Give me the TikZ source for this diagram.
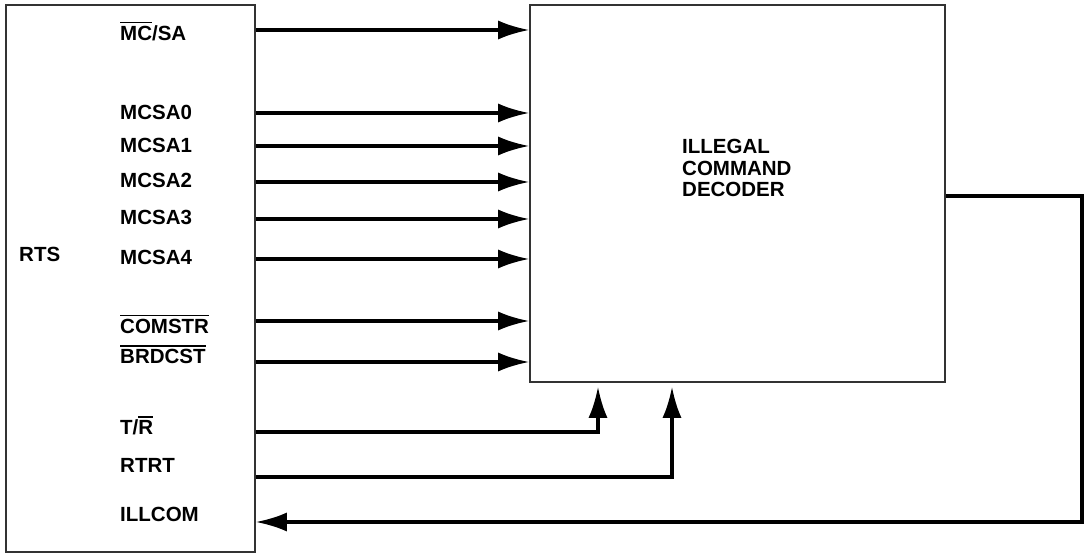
\documentclass[tikz,border=0pt]{standalone}
\usepackage{fontspec}
\setmainfont{Liberation Sans}
\usetikzlibrary{arrows.meta,positioning}
\newcommand{\barsig}[1]{\leavevmode\setbox0\hbox{#1}\rlap{\rule[17pt]{\wd0}{1.4pt}}\box0}

\begin{document}
\begin{tikzpicture}[x=1pt, y=-1pt, >={Latex[length=31pt,width=19pt]},
    every node/.style={font=\fontsize{20.5}{22}\selectfont\bfseries, inner sep=0pt},
    sig/.style={anchor=west, text height=15pt, text depth=0pt},
    blk/.style={draw=black!80, line width=1.6pt},
    wire/.style={line width=3.2pt}]
  \useasboundingbox (0,0) rectangle (1088,556);
  \node[blk, minimum width=249pt, minimum height=547pt] (rts) at (130.5,278.5) {};
  \node[blk, minimum width=415pt, minimum height=377pt] (dec) at (737.5,193.5) {};
  \node[anchor=west, text height=15pt] (rtslbl) at (19,254) {RTS};
  \node[anchor=north west, align=left, font=\fontsize{20.5}{21.5}\selectfont\bfseries] (declbl) at (682,139) {ILLEGAL\\COMMAND\\DECODER};
  % inputs of the decoder
  \node[sig] (mcsa)  at (120,33)  {\barsig{MC}/SA};
  \node[sig] (mcsa0) at (120,112) {MCSA0};
  \node[sig] (mcsa1) at (120,145) {MCSA1};
  \node[sig] (mcsa2) at (120,180) {MCSA2};
  \node[sig] (mcsa3) at (120,217) {MCSA3};
  \node[sig] (mcsa4) at (120,257) {MCSA4};
  \node[sig] (comstr) at (120,326) {\barsig{COMSTR}};
  \node[sig] (brdcst) at (120,356) {\barsig{BRDCST}};
  \node[sig] (tr)     at (120,427) {T/\barsig{R}};
  \node[sig] (rtrt)   at (120,465) {RTRT};
  \node[sig] (illcom) at (120,514) {ILLCOM};
  \foreach \w/\y in {mcsa/30, mcsa0/113, mcsa1/146, mcsa2/182, mcsa3/219, mcsa4/259, comstr/321, brdcst/362}
    \coordinate (w\w) at (0,\y);
  \foreach \w in {mcsa, mcsa0, mcsa1, mcsa2, mcsa3, mcsa4, comstr, brdcst}
    \draw[wire,->] (rts.east |- w\w) -- (dec.west |- w\w);
  % timing inputs from below
  \coordinate (wtr) at (598,432); \coordinate (wrtrt) at (672,477);
  \draw[wire,->] (rts.east |- wtr) -| ([yshift=-4pt]dec.south -| wtr);
  \draw[wire,->] (rts.east |- wrtrt) -| ([yshift=-4pt]dec.south -| wrtrt);
  % decoder output back to RTS
  \coordinate (wout) at (1082,196); \coordinate (will) at (0,522);
  \draw[wire,->] (dec.east |- wout) -| (wout |- will) -- (rts.east |- will);
\end{tikzpicture}
\end{document}
